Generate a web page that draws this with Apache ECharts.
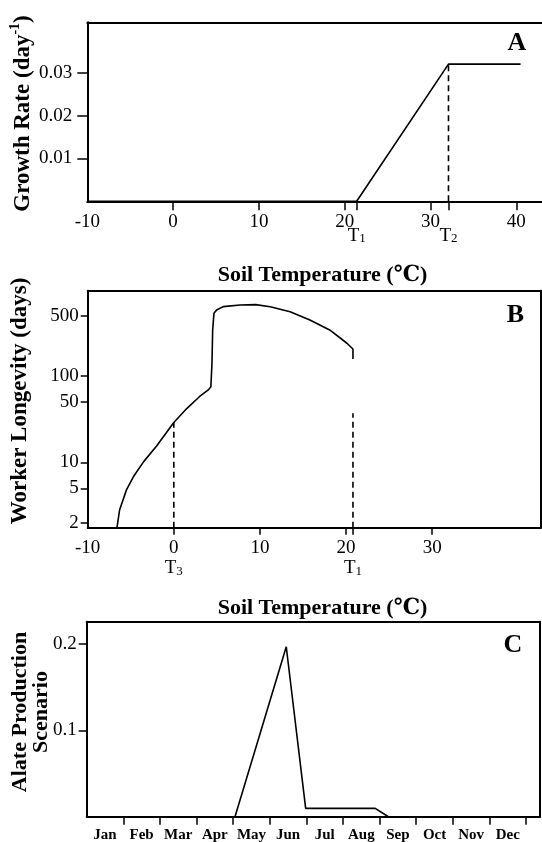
<!DOCTYPE html>
<html>
<head>
<meta charset="utf-8">
<script src="https://cdn.jsdelivr.net/npm/echarts@6/dist/echarts.min.js"></script>
<style>
  html, body { margin: 0; padding: 0; background: #fff; }
  #main { width: 542px; height: 842px; }
</style>
</head>
<body>
<div id="main"></div>
<script>
// A: growth rate vs soil temperature
const tempA = [-10, 21.4, 32.1, 40.5];
const growthA = [0, 0, 0.032, 0.032];
const t2LineA = [[32.1, 0], [32.1, 0.032]];
const xLabelsA = [-10, 0, 10, 20, 30, 40];
const xTicksA = [0, 10, 20, 21.4, 30, 32.1, 40];
const yLabelsA = [0.01, 0.02, 0.03];
const tMarksA = [21.4, 32.1];
const tSubsA = ['1', '2'];

// B: worker longevity (days, log scale) vs soil temperature
const tempB = [-6.6, -6.3, -5.5, -4.7, -3.5, -2.0, 0, 1.5, 3.0, 4.0, 4.3, 4.43, 4.51, 4.66, 4.97, 5.74, 7.7, 9.5, 11.2, 13.5, 15.8, 18.1, 20.1, 20.8, 20.8];
const longevityB = [1.75, 2.8, 4.8, 6.8, 10.2, 15.5, 29, 42, 58, 69, 75, 141, 342, 533, 583, 637, 666, 672, 634, 557, 447, 342, 240, 206, 158];
const t3LineB = [[0, 1.75], [0, 29]];
const t1LineB = [[20.8, 1.75], [20.8, 37]];
const xLabelsB = [-10, 0, 10, 20, 30];
const xTicksB = [0, 10, 20, 20.8, 30];
const yLabelsB = [2, 5, 10, 50, 100, 500];
const tMarksB = [0, 20.8];
const tSubsB = ['3', '1'];

// C: alate production scenario by month
const months = ['Jan', 'Feb', 'Mar', 'Apr', 'May', 'Jun', 'Jul', 'Aug', 'Sep', 'Oct', 'Nov', 'Dec'];
const monthX = [0, 4.05, 5.45, 5.98, 7.88, 8.24, 12.38];
const alateC = [0, 0, 0.197, 0.0097, 0.0097, 0, 0];
const yLabelsC = [0.1, 0.2];

const serif = "'Liberation Serif', 'DejaVu Serif', serif";
const log10 = v => Math.log10(v);

const black = { color: '#000', width: 2 };
const tickFont = { color: '#000', fontFamily: serif, fontSize: 19 };

function borderX(gridIndex, position, min, max) {
  return {
    type: 'value', gridIndex, position, min, max,
    axisLine: { show: true, onZero: false, lineStyle: black },
    axisTick: { show: false }, axisLabel: { show: false }, splitLine: { show: false }
  };
}
function borderY(gridIndex, position, min, max) {
  return {
    type: 'value', gridIndex, position, min, max,
    axisLine: { show: true, onZero: false, lineStyle: black },
    axisTick: { show: false }, axisLabel: { show: false }, splitLine: { show: false }
  };
}
function tAxis(gridIndex, min, max, marks, subs, margin) {
  return {
    type: 'value', gridIndex, position: 'bottom', min, max,
    axisLine: { show: false, onZero: false }, axisTick: { show: false }, splitLine: { show: false },
    axisLabel: {
      customValues: marks, margin,
      formatter: v => '{t|T}{s|' + subs[marks.indexOf(v)] + '}',
      rich: {
        t: { fontFamily: serif, fontSize: 19, lineHeight: 19, verticalAlign: 'top', color: '#000' },
        s: { fontFamily: serif, fontSize: 13, lineHeight: 13, verticalAlign: 'bottom', padding: [10, 0, 0, 0], color: '#000' }
      }
    }
  };
}

const chart = echarts.init(document.getElementById('main'), null, { renderer: 'canvas' });

const option = {
  animation: false,
  backgroundColor: '#fff',
  grid: [
    { left: 87.3, top: 22.3, width: 454.7, height: 179, containLabel: false, outerBoundsMode: 'none' },
    { left: 87.7, top: 290.7, width: 453, height: 237, containLabel: false, outerBoundsMode: 'none' },
    { left: 86.7, top: 621.7, width: 453.3, height: 195, containLabel: false, outerBoundsMode: 'none' }
  ],
  xAxis: [
    {
      type: 'value', gridIndex: 0, position: 'bottom', min: -10, max: 43,
      axisLine: { show: true, onZero: false, lineStyle: black },
      axisTick: { show: true, customValues: xTicksA, length: 9, lineStyle: { color: '#000', width: 1.5 } },
      axisLabel: { customValues: xLabelsA, margin: 11, ...tickFont },
      splitLine: { show: false }
    },
    tAxis(0, -10, 43, tMarksA, tSubsA, 25),
    borderX(0, 'top', -10, 43),
    {
      type: 'value', gridIndex: 1, position: 'bottom', min: -10, max: 42.6,
      axisLine: { show: true, onZero: false, lineStyle: black },
      axisTick: { show: true, customValues: xTicksB, length: 7, lineStyle: { color: '#000', width: 1.5 } },
      axisLabel: { customValues: xLabelsB, margin: 11, ...tickFont },
      splitLine: { show: false }
    },
    tAxis(1, -10, 42.6, tMarksB, tSubsB, 31),
    borderX(1, 'top', -10, 42.6),
    {
      type: 'value', gridIndex: 2, position: 'bottom', min: 0, max: 12.38,
      axisLine: { show: true, onZero: false, lineStyle: black },
      axisTick: { show: true, customValues: months.map((m, i) => i + 1), length: 8, lineStyle: { color: '#000', width: 1.5 } },
      axisLabel: {
        customValues: months.map((m, i) => i + 0.5), margin: 11,
        formatter: v => months[Math.floor(v)],
        color: '#000', fontFamily: serif, fontSize: 15, fontWeight: 'bold'
      },
      splitLine: { show: false }
    },
    borderX(2, 'top', 0, 12.38)
  ],
  yAxis: [
    {
      type: 'value', gridIndex: 0, position: 'left', min: 0, max: 0.04175,
      axisLine: { show: true, onZero: false, lineStyle: black },
      axisTick: { show: true, customValues: yLabelsA, length: 10, lineStyle: { color: '#000', width: 1.5 } },
      axisLabel: { customValues: yLabelsA, margin: 15, formatter: v => v.toFixed(2), ...tickFont },
      splitLine: { show: false }
    },
    {
      type: 'value', gridIndex: 1, position: 'left', min: log10(1.75), max: log10(975),
      axisLine: { show: true, onZero: false, lineStyle: black },
      axisTick: { show: true, customValues: yLabelsB.map(log10), length: 7, lineStyle: { color: '#000', width: 1.5 } },
      axisLabel: { customValues: yLabelsB.map(log10), margin: 9, formatter: v => String(Math.round(Math.pow(10, v))), ...tickFont },
      splitLine: { show: false }
    },
    borderY(1, 'right', log10(1.75), log10(975)),
    {
      type: 'value', gridIndex: 2, position: 'left', min: 0, max: 0.226,
      axisLine: { show: true, onZero: false, lineStyle: black },
      axisTick: { show: true, customValues: yLabelsC, length: 8, lineStyle: { color: '#000', width: 1.5 } },
      axisLabel: { customValues: yLabelsC, margin: 10, formatter: v => v.toFixed(1), ...tickFont },
      splitLine: { show: false }
    },
    borderY(2, 'right', 0, 0.226)
  ],
  series: [
    {
      type: 'line', xAxisIndex: 0, yAxisIndex: 0, symbol: 'none',
      data: tempA.map((t, i) => [t, growthA[i]]),
      lineStyle: { color: '#000', width: 1.6 }
    },
    {
      type: 'line', xAxisIndex: 0, yAxisIndex: 0, symbol: 'none',
      data: t2LineA,
      lineStyle: { color: '#000', width: 1.6, type: [6, 4] }
    },
    {
      type: 'line', xAxisIndex: 3, yAxisIndex: 1, symbol: 'none',
      data: tempB.map((t, i) => [t, log10(longevityB[i])]),
      lineStyle: { color: '#000', width: 1.6 }
    },
    {
      type: 'line', xAxisIndex: 3, yAxisIndex: 1, symbol: 'none',
      data: t3LineB.map(p => [p[0], log10(p[1])]),
      lineStyle: { color: '#000', width: 1.6, type: [6, 4] }
    },
    {
      type: 'line', xAxisIndex: 3, yAxisIndex: 1, symbol: 'none',
      data: t1LineB.map(p => [p[0], log10(p[1])]),
      lineStyle: { color: '#000', width: 1.6, type: [6, 4] }
    },
    {
      type: 'line', xAxisIndex: 6, yAxisIndex: 3, symbol: 'none',
      data: monthX.map((m, i) => [m, alateC[i]]),
      lineStyle: { color: '#000', width: 1.6 }
    }
  ],
  graphic: [
    {
      type: 'text', x: 21.7, y: 113.5, rotation: Math.PI / 2,
      style: {
        text: '{m|Growth Rate (day}{sup|-1}{m|)}', align: 'center', verticalAlign: 'middle',
        rich: {
          m: { fontFamily: serif, fontWeight: 'bold', fontSize: 23, lineHeight: 26, verticalAlign: 'bottom', fill: '#000' },
          sup: { fontFamily: serif, fontWeight: 'bold', fontSize: 14, lineHeight: 14, verticalAlign: 'top', fill: '#000' }
        }
      }
    },
    {
      type: 'text', x: 20, y: 401, rotation: Math.PI / 2,
      style: { text: 'Worker Longevity (days)', align: 'center', verticalAlign: 'middle', fontFamily: serif, fontWeight: 'bold', fontSize: 23, fill: '#000' }
    },
    {
      type: 'text', x: 30.8, y: 712, rotation: Math.PI / 2,
      style: { text: 'Alate Production\nScenario', align: 'center', verticalAlign: 'middle', lineHeight: 21.7, fontFamily: serif, fontWeight: 'bold', fontSize: 22, fill: '#000' }
    },
    {
      type: 'text', x: 322.5, y: 275,
      style: { text: 'Soil Temperature (℃)', align: 'center', verticalAlign: 'middle', fontFamily: serif, fontWeight: 'bold', fontSize: 22, fill: '#000' }
    },
    {
      type: 'text', x: 322.5, y: 608,
      style: { text: 'Soil Temperature (℃)', align: 'center', verticalAlign: 'middle', fontFamily: serif, fontWeight: 'bold', fontSize: 22, fill: '#000' }
    },
    { type: 'text', x: 517, y: 43.5, style: { text: 'A', align: 'center', verticalAlign: 'middle', fontFamily: serif, fontWeight: 'bold', fontSize: 26, fill: '#000' } },
    { type: 'text', x: 515.3, y: 315.3, style: { text: 'B', align: 'center', verticalAlign: 'middle', fontFamily: serif, fontWeight: 'bold', fontSize: 26, fill: '#000' } },
    { type: 'text', x: 513, y: 645, style: { text: 'C', align: 'center', verticalAlign: 'middle', fontFamily: serif, fontWeight: 'bold', fontSize: 26, fill: '#000' } }
  ]
};

chart.setOption(option);
</script>
</body>
</html>
